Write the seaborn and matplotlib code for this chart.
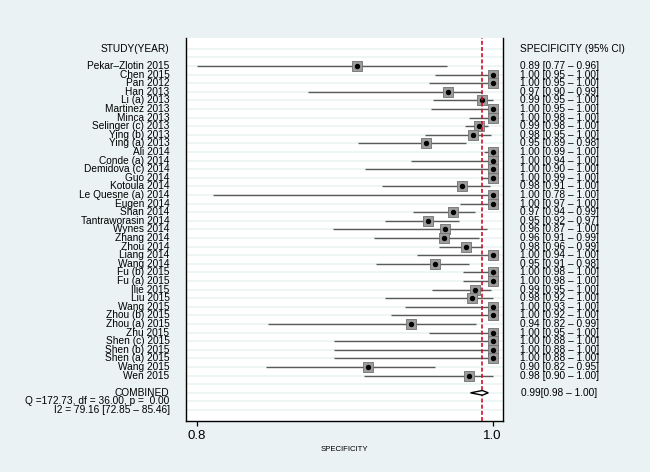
import numpy as np
import pandas as pd
import matplotlib
matplotlib.use("Agg")
import matplotlib.pyplot as plt
import matplotlib.transforms as mtransforms
import seaborn as sns

# study labels, top to bottom
studies = ["Pekar–Zlotin 2015", "Chen 2015", "Pan 2012", "Han 2013", "Li (a) 2013",
           "Martinez 2013", "Minca 2013", "Selinger (c) 2013", "Ying (b) 2013", "Ying (a) 2013",
           "Ali 2014", "Conde (a) 2014", "Demidova (c) 2014", "Guo 2014", "Kotoula 2014",
           "Le Quesne (a) 2014", "Eugen 2014", "Shan 2014", "Tantraworasin 2014", "Wynes 2014",
           "Zhang 2014", "Zhou 2014", "Liang 2014", "Wang 2014", "Fu (b) 2015",
           "Fu (a) 2015", "Ilie 2015", "Liu 2015", "Wang 2015", "Zhou (b) 2015",
           "Zhou (a) 2015", "Zhu 2015", "Shen (c) 2015", "Shen (b) 2015", "Shen (a) 2015",
           "Wang 2015", "Wen 2015"]

# positions as drawn on the axis
spec_pt = [0.908, 1.000, 1.000, 0.970, 0.993, 1.000, 1.000, 0.991, 0.987, 0.955,
           1.000, 1.000, 1.000, 1.000, 0.979, 1.000, 1.000, 0.973, 0.956, 0.968,
           0.967, 0.982, 1.000, 0.961, 1.000, 1.000, 0.988, 0.986, 1.000, 1.000,
           0.945, 1.000, 1.000, 1.000, 1.000, 0.916, 0.984]
spec_lo = [0.800, 0.961, 0.957, 0.875, 0.960, 0.958, 0.984, 0.981, 0.954, 0.909,
           0.994, 0.945, 0.914, 0.992, 0.925, 0.811, 0.978, 0.946, 0.927, 0.892,
           0.920, 0.964, 0.949, 0.921, 0.980, 0.980, 0.959, 0.927, 0.941, 0.931,
           0.848, 0.957, 0.893, 0.893, 0.893, 0.847, 0.913]
spec_hi = [0.969, 1.000, 1.000, 0.993, 1.000, 1.000, 1.000, 0.997, 0.999, 0.982,
           1.000, 1.000, 1.000, 1.000, 0.998, 1.000, 1.000, 0.988, 0.977, 0.996,
           0.991, 0.993, 1.000, 0.984, 1.000, 1.000, 0.999, 1.000, 1.000, 1.000,
           0.989, 1.000, 1.000, 1.000, 1.000, 0.961, 1.000]

ci_labels = ["0.89 [0.77 – 0.96]", "1.00 [0.95 – 1.00]", "1.00 [0.95 – 1.00]", "0.97 [0.90 – 0.99]",
             "0.99 [0.95 – 1.00]", "1.00 [0.95 – 1.00]", "1.00 [0.98 – 1.00]", "0.99 [0.98 – 1.00]",
             "0.98 [0.95 – 1.00]", "0.95 [0.89 – 0.98]", "1.00 [0.99 – 1.00]", "1.00 [0.94 – 1.00]",
             "1.00 [0.90 – 1.00]", "1.00 [0.99 – 1.00]", "0.98 [0.91 – 1.00]", "1.00 [0.78 – 1.00]",
             "1.00 [0.97 – 1.00]", "0.97 [0.94 – 0.99]", "0.95 [0.92 – 0.97]", "0.96 [0.87 – 1.00]",
             "0.96 [0.91 – 0.99]", "0.98 [0.96 – 0.99]", "1.00 [0.94 – 1.00]", "0.95 [0.91 – 0.98]",
             "1.00 [0.98 – 1.00]", "1.00 [0.98 – 1.00]", "0.99 [0.95 – 1.00]", "0.98 [0.92 – 1.00]",
             "1.00 [0.93 – 1.00]", "1.00 [0.92 – 1.00]", "0.94 [0.82 – 0.99]", "1.00 [0.95 – 1.00]",
             "1.00 [0.88 – 1.00]", "1.00 [0.88 – 1.00]", "1.00 [0.88 – 1.00]", "0.90 [0.82 – 0.95]",
             "0.98 [0.90 – 1.00]"]

comb_pt, comb_lo, comb_hi = 0.993, 0.985, 0.997
comb_label = "0.99[0.98 – 1.00]"
het_q = "Q =172.73, df = 36.00, p =  0.00"
het_i2 = "I2 = 79.16 [72.85 – 85.46]"

df = pd.DataFrame({"study": studies, "pt": spec_pt, "lo": spec_lo, "hi": spec_hi})
df["row"] = np.arange(len(df))
comb_row = len(df) + 1

sns.set_theme(style="white")
plt.rcParams['font.family'] = ['Liberation Sans', 'DejaVu Sans']
plt.rcParams['text.color'] = 'black'
plt.rcParams['axes.labelcolor'] = 'black'
plt.rcParams['xtick.color'] = 'black'

bg = (234/255, 242/255, 243/255)
fig = plt.figure(figsize=(6.5, 4.72), dpi=100, facecolor=bg)
ax = fig.add_axes([186/650, 1 - 420.7/472, 317/650, 382.7/472])
ax.set_facecolor("white")

# light row lines
for r in range(-2, comb_row + 3):
    ax.axhline(r, color=bg, lw=1.1, zorder=0)

ax.hlines(df["row"], df["lo"], df["hi"], color="#5a5a5a", lw=1.0, zorder=2)
sns.scatterplot(data=df, x="pt", y="row", marker="s", s=46, color="#9c9c9c",
                edgecolor="#707070", linewidth=0.6, ax=ax, zorder=3, legend=False)
sns.scatterplot(data=df, x="pt", y="row", marker="o", s=15, color="black",
                edgecolor="black", linewidth=0, ax=ax, zorder=4, legend=False)

# pooled estimate
ax.fill([comb_lo, comb_pt, comb_hi, comb_pt],
        [comb_row, comb_row - 0.27, comb_row, comb_row + 0.27],
        facecolor="white", edgecolor="black", lw=1.0, zorder=5)
ax.axvline(comb_pt, color="#d0102a", lw=1.2, dashes=(2.4, 1.3), zorder=4)

ax.set_xlim(0.79277, 1.00696)
ax.set_ylim(comb_row + 3.24, -3.26)
ax.set_yticks([])
ax.set_xticks([0.8, 1.0])
ax.set_xticklabels(["0.8", "1.0"], fontsize=9.5)
ax.tick_params(axis="x", bottom=True, length=3.6, width=0.9, pad=3, color="black")
ax.set_xlabel("SPECIFICITY", fontsize=5.6, labelpad=3)
ax.set_ylabel("")
for sp in ax.spines.values():
    sp.set_color("black")
    sp.set_linewidth(1.0)
ax.spines["top"].set_visible(False)

trans = mtransforms.blended_transform_factory(fig.transFigure, ax.transData)
fs = 7.3
xl = 169.5 / 650
xr = 520.5 / 650
fig.text(xl, -2, "STUDY(YEAR)", ha="right", va="center", fontsize=fs, transform=trans)
fig.text(xr, -2, "SPECIFICITY (95% CI)", ha="left", va="center", fontsize=fs, transform=trans)
for r, name, lab in zip(df["row"], studies, ci_labels):
    fig.text(xl, r, name, ha="right", va="center", fontsize=fs, transform=trans)
    fig.text(xr, r, lab, ha="left", va="center", fontsize=fs, transform=trans)
fig.text(xl, comb_row, "COMBINED", ha="right", va="center", fontsize=fs, transform=trans)
fig.text(xl, comb_row + 1, het_q, ha="right", va="center", fontsize=fs, transform=trans)
fig.text(xl, comb_row + 2, het_i2, ha="right", va="center", fontsize=fs, transform=trans)
fig.text(597 / 650, comb_row, comb_label, ha="right", va="center", fontsize=fs, transform=trans)

fig.savefig("out.png", dpi=100, facecolor=bg)
